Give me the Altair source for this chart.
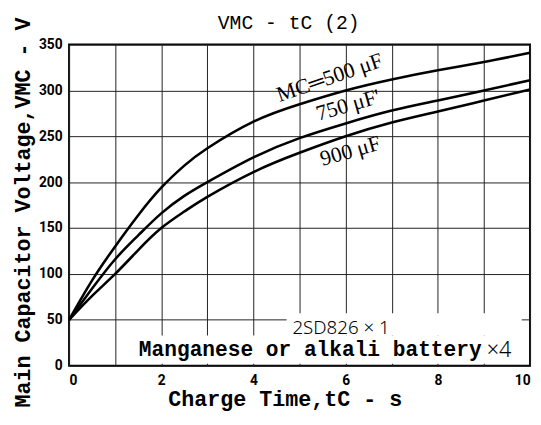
import altair as alt
import pandas as pd

# data
t = [0, 0.5, 1, 1.5, 2, 2.5, 3, 4, 5, 6, 7, 8, 9, 10]
v500 = [50, 93, 130, 164, 194, 218, 237, 266, 285, 300, 312, 322, 331, 341]
v750 = [50, 84, 116, 142, 166, 185, 200, 227, 248, 264, 278, 289, 300, 311]
v900 = [50, 76, 100, 126, 150, 168, 184, 211, 232, 250, 265, 277, 289, 301]
series = ["500", "750", "900"]

x_ticks = list(range(0, 11))
y_ticks = list(range(0, 351, 50))

rows = []
for name, vals in zip(series, [v500, v750, v900]):
    for tt, vv in zip(t, vals):
        rows.append({"t": tt, "v": vv, "c": name})
df = pd.DataFrame(rows)

label_t = [5.65, 6.05, 6.1]
label_v = [314, 284, 234]
label_text = ["MC\u2550500 \u03bcF", "750 \u03bcF'", "900 \u03bcF"]
label_angle = [341, 344, 344]

boxes = pd.DataFrame({
    "x1": [4.72, 1.3], "x2": [9.82, 9.9],
    "y1": [33, 2], "y2": [57, 33],
})

xs = alt.Scale(domain=[0, 10], nice=False)
ys = alt.Scale(domain=[0, 350], nice=False)

xaxis = alt.Axis(values=x_ticks, labelExpr="datum.value % 2 == 0 ? datum.label : ''",
                 title="Charge Time,tC - s", titleFont="Liberation Mono", titleFontWeight="bold",
                 titleFontSize=22, titleX=219, titleY=40, titleBaseline="alphabetic",
                 labelFont="Roboto", labelFontWeight="bold", labelFontSize=14, labelPadding=8,
                 ticks=False, domain=False, grid=True, gridColor="#222", gridWidth=1,
                 labelColor="black", titleColor="black")
yaxis = alt.Axis(values=y_ticks,
                 title="Main Capacitor Voltage,VMC - V", titleFont="Liberation Mono", titleFontWeight="bold",
                 titleFontSize=22, titleX=-40, titleY=170, titleAngle=270, titleBaseline="alphabetic",
                 titleAlign="center",
                 labelFont="Roboto", labelFontWeight="bold", labelFontSize=14, labelPadding=7,
                 ticks=False, domain=False, grid=True, gridColor="#222", gridWidth=1,
                 labelColor="black", titleColor="black")

lines = alt.Chart(df).mark_line(color="black", strokeWidth=2.6, interpolate="natural").encode(
    x=alt.X("t:Q", scale=xs, axis=xaxis),
    y=alt.Y("v:Q", scale=ys, axis=yaxis),
    detail="c:N",
)

rects = alt.Chart(boxes).mark_rect(color="white", opacity=1).encode(
    x="x1:Q", x2="x2:Q", y="y1:Q", y2="y2:Q"
)

lab_layers = []
for i in range(3):
    lab_layers.append(
        alt.Chart(pd.DataFrame({"t": [label_t[i]], "v": [label_v[i]], "text": [label_text[i]]})).mark_text(
            font="Liberation Serif", fontSize=22, angle=label_angle[i], color="black"
        ).encode(x="t:Q", y="v:Q", text="text:N")
    )

sd = alt.Chart(pd.DataFrame({"t": [5.9], "v": [41], "text": ["2SD826 \u00d7 1"]})).mark_text(
    font="Noto Sans", fontWeight=300, fontSize=19, color="black"
).encode(x="t:Q", y="v:Q", text="text:N")

bat = alt.Chart(pd.DataFrame({"t": [8.95], "v": [17], "text": ["Manganese or alkali battery"]})).mark_text(
    font="Liberation Mono", fontWeight="bold", fontSize=21.5, align="right", color="black"
).encode(x="t:Q", y="v:Q", text="text:N")

bat2 = alt.Chart(pd.DataFrame({"t": [9.06], "v": [17], "text": ["\u00d74"]})).mark_text(
    font="Noto Sans", fontWeight=300, fontSize=22, align="left", color="black"
).encode(x="t:Q", y="v:Q", text="text:N")

chart = alt.layer(lines, rects, sd, bat, bat2, *lab_layers).properties(
    width=468, height=326,
    title=alt.TitleParams("VMC - tC (2)", font="Liberation Mono", fontSize=20, fontWeight="normal",
                          anchor="start", frame="group", dx=151, offset=-16, color="black"),
    autosize=alt.AutoSizeParams(type="none"),
    padding={"left": 62, "top": 34, "right": 3, "bottom": 49},
).configure_view(stroke="black", strokeWidth=2)

chart.save("out.html", embed_options={"renderer": "svg", "actions": False})
